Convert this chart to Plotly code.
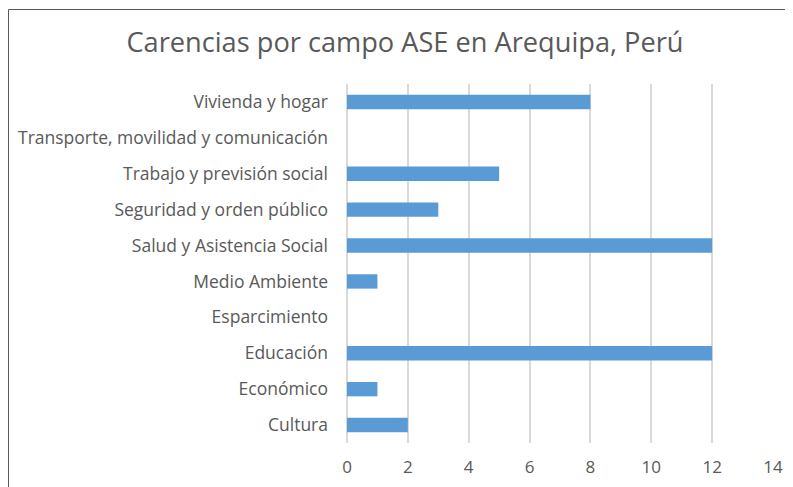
import plotly.graph_objects as go

categories = ["Cultura", "Económico", "Educación", "Esparcimiento", "Medio Ambiente",
              "Salud y Asistencia Social", "Seguridad y orden público",
              "Trabajo y previsión social", "Transporte, movilidad y comunicación",
              "Vivienda y hogar"]
values = [2, 1, 12, 0, 1, 12, 3, 5, 0, 8]
x_ticks = [0, 2, 4, 6, 8, 10, 12, 14]

OFF = 8  # page body margin
W, H = 793 - OFF, 487 - OFF
L, R, T, B = 347 - OFF, 20, 84 - OFF, 44
pw, ph = W - L - R, H - T - B

fig = go.Figure(go.Bar(
    x=values, y=categories, orientation="h",
    marker=dict(color="#5B9BD5", line=dict(width=0)),
    width=0.4,
))

fig.update_layout(
    width=W, height=H,
    margin=dict(l=L, r=R, t=T, b=B, autoexpand=False),
    paper_bgcolor="white", plot_bgcolor="white",
    font=dict(family="Open Sans, Noto Sans, sans-serif", color="#595959", size=17),
    title=dict(text="Carencias por campo ASE en Arequipa, Perú",
               x=(405 - OFF) / W, xanchor="center", xref="container",
               y=1 - (42 - OFF) / H, yanchor="middle", yref="container",
               font=dict(size=27.2, color="#595959")),
    showlegend=False,
    bargap=0.6,
)
fig.update_xaxes(range=[0, 14], tickvals=x_ticks, showgrid=True, gridcolor="#D9D9D9",
                 gridwidth=1.5, zeroline=True, zerolinecolor="#D9D9D9", zerolinewidth=1.5,
                 showline=False, ticks="", ticklabelstandoff=12, automargin=False,
                 tickfont=dict(size=17, color="#595959"))
fig.update_yaxes(categoryorder="array", categoryarray=categories, showgrid=False,
                 ticks="", showline=False, ticklabelstandoff=18, automargin=False,
                 tickfont=dict(size=17.5, color="#595959"))

# chart frame
fig.add_shape(type="rect", xref="paper", yref="paper",
              x0=(0.5 - L) / pw, x1=(W + 10 - L) / pw,
              y0=-(B + 10) / ph, y1=1 + (T - (10 - OFF) + 0.5) / ph,
              line=dict(color="#595959", width=1), fillcolor="rgba(0,0,0,0)", layer="below")

fig.write_html("out.html")
